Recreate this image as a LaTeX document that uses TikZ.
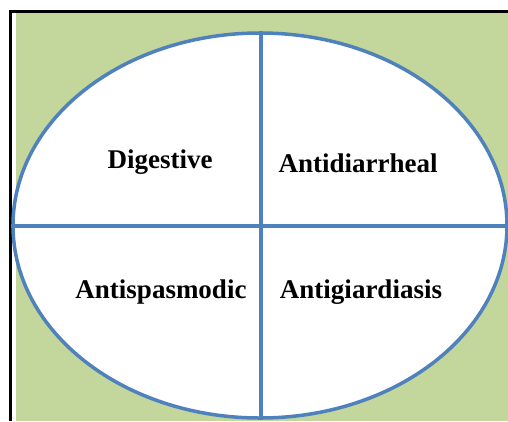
\documentclass[tikz,border=0pt]{standalone}
\usepackage{fontspec}
\setmainfont{Liberation Serif}
\usetikzlibrary{shapes.geometric}
\definecolor{leaf}{HTML}{C3D69B}
\definecolor{rim}{HTML}{4F81BD}
\tikzset{every node/.style={font=\bfseries\fontsize{27}{31}\selectfont},rim/.style={draw=rim,line width=3.5pt},oval/.style={ellipse,rim,fill=white,minimum width=494pt,minimum height=385pt,inner sep=0pt}}

\begin{document}
\begin{tikzpicture}[x=1pt,y=-1pt]
\useasboundingbox[fill=white] (0,0) rectangle (508,421);
\fill[leaf] (16,12) rectangle (508,421);\draw[line width=3pt] (10.5,421)--(10.5,11)--(508,11);
\node[oval] (egg) at (260,225.5) {};
\draw[rim] (egg.north-|261,0)--(egg.south-|261,0);\draw[rim] (egg.west|-0,226)--(egg.east|-0,226);
\node (dig) at (160,162) {Digestive};\node (diar) at (358,163) {Antidiarrheal};
\node (spas) at (161,292) {Antispasmodic};\node (giar) at (361,292) {Antigiardiasis};
\end{tikzpicture}
\end{document}
